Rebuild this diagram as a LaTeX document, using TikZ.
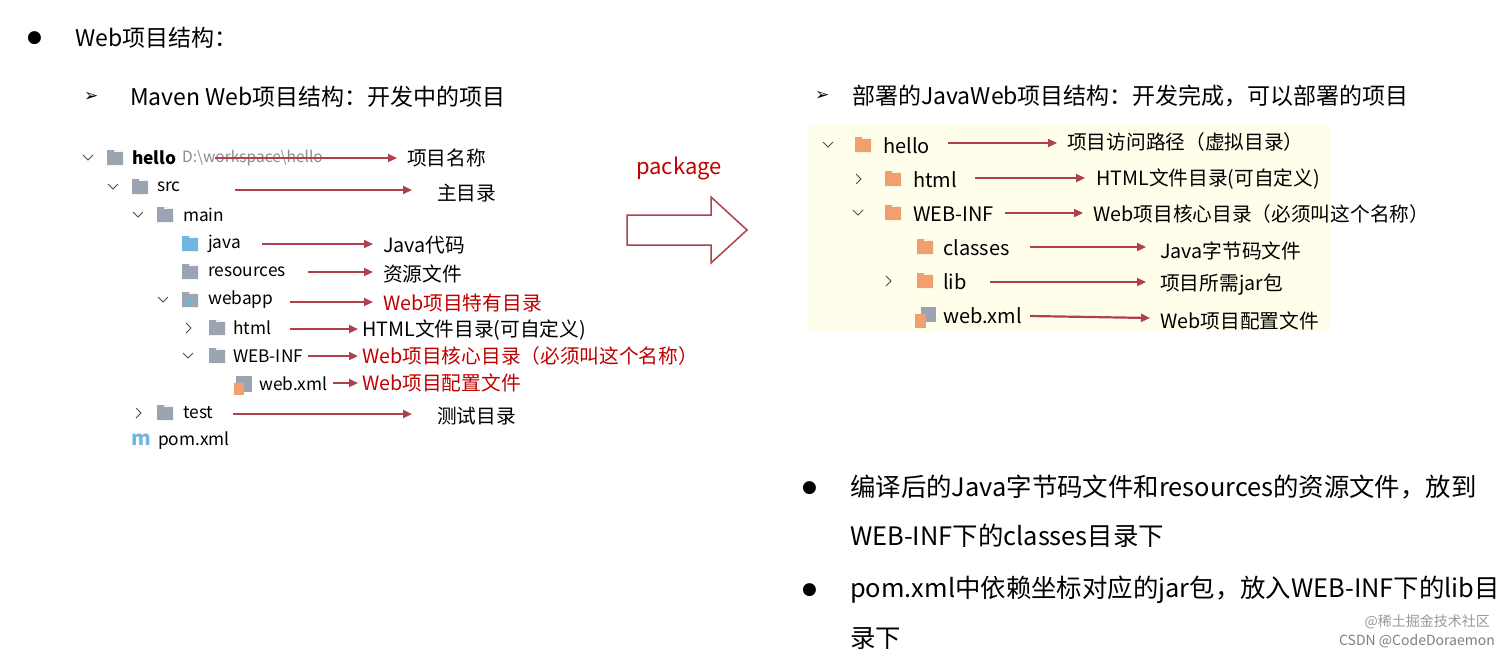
\documentclass[tikz,border=0pt]{standalone}
\usepackage{fontspec}
\setmainfont{Noto Sans CJK SC}
\newfontfamily\sym{DejaVu Sans}
\usetikzlibrary{arrows.meta}
\definecolor{arr}{HTML}{B0404E}
\definecolor{lbl}{HTML}{C00000}
\definecolor{fold}{HTML}{9AA5B1}
\definecolor{ofold}{HTML}{F0A070}
\definecolor{bfold}{HTML}{6FB6E0}
\tikzset{
 x=1pt,y=-1pt,
 t/.style={anchor=west,inner sep=0pt,font=\fontsize{17.3}{17}\selectfont},
 rt/.style={anchor=west,inner sep=0pt,font=\fontsize{20}{20}\selectfont},
 lb/.style={anchor=west,inner sep=0pt,font=\fontsize{19.7}{19}\selectfont},
 big/.style={anchor=west,inner sep=0pt,font=\fontsize{23}{23}\selectfont},
 bot/.style={anchor=west,inner sep=0pt,font=\fontsize{25.4}{26}\selectfont},
 ar/.style={draw=arr,line width=2.2pt,-{Triangle[length=9pt,width=8pt]}},
 fd/.style={fill=fold,draw=none},
 chev/.style={draw=black!70,line width=0.8pt},
}
\newcommand\folder[3]{\fill[#3] (#1-8,#2-6) rectangle (#1-1,#2-8) -- (#1+8,#2-6) rectangle (#1-8,#2+7);}
\newcommand\chevd[2]{\draw[chev] (#1-5,#2-3) -- (#1,#2+2) -- (#1+5,#2-3);}
\newcommand\chevr[2]{\draw[chev] (#1-2,#2-5) -- (#1+3,#2) -- (#1-2,#2+5);}
\begin{document}
\begin{tikzpicture}
\useasboundingbox (0,0) rectangle (1512,656);
\fill[white] (0,0) rectangle (1512,656);
% headings
\node[big] (b1) at (27,38) {\sym\fontsize{17}{17}\selectfont ●};
\node[big] (h1) at (75,38) {Web项目结构：};
\node[big] (b2) at (84,97) {\sym\fontsize{17}{17}\selectfont ➢};
\node[big] (h2) at (130,97) {Maven Web项目结构：开发中的项目};
\node[big] (b3) at (815,96) {\sym\fontsize{17}{17}\selectfont ➢};
\node[big] (h3) at (852,96) {部署的JavaWeb项目结构：开发完成，可以部署的项目};
% left tree
\chevd{88}{158}\folder{115}{158}{fd}
\node[t,font=\fontsize{17.3}{17}\selectfont\bfseries] (lhello) at (132,158) {hello};
\node[t,text=black!45,font=\fontsize{15.5}{15}\selectfont] (lpath) at (182,158) {D:\textbackslash workspace\textbackslash hello};
\chevd{113}{187}\folder{140}{187}{fd}\node[t] (lsrc) at (157,187) {src};
\chevd{138}{215}\folder{165}{215}{fd}\node[t] (lmain) at (183,215) {main};
\folder{190}{244}{fill=bfold}\node[t] (ljava) at (208,244) {java};
\folder{190}{272}{fd}\node[t] (lres) at (208,272) {resources};
\chevd{163}{300}\folder{190}{300}{fd}\fill[bfold] (190,302) circle (3);\node[t] (lweb) at (208,300) {webapp};
\chevr{188}{328}\folder{217}{328}{fd}\node[t] (lhtml) at (233,328) {html};
\chevd{188}{356}\folder{217}{356}{fd}\node[t] (lwi) at (233,356) {WEB-INF};
\fill[fold] (236,376) rectangle (252,392);\fill[ofold] (234,383) rectangle (244,395);
\node[t] (lxml) at (259,384) {web.xml};
\chevr{138}{413}\folder{165}{413}{fd}\node[t] (ltest) at (183,413) {test};
\node[t,text=bfold,font=\fontsize{20}{20}\selectfont\bfseries\itshape] (lm) at (131,440) {m};
\node[t] (lpom) at (158,441) {pom.xml};
% left labels
\node[lb] (l1) at (407,158) {项目名称};
\node[lb] (l2) at (437,193) {主目录};
\node[lb] (l3) at (383,245) {Java代码};
\node[lb] (l4) at (383,274) {资源文件};
\node[lb,text=lbl] (l5) at (383,303) {Web项目特有目录};
\node[lb] (l6) at (362,330) {HTML文件目录(可自定义)};
\node[lb,text=lbl] (l7) at (362,356) {Web项目核心目录（必须叫这个名称）};
\node[lb,text=lbl] (l8) at (362,383) {Web项目配置文件};
\node[lb] (l9) at (437,416) {测试目录};
\coordinate (s1) at (215,158);\draw[ar] (s1) -- (397,158);
\coordinate (s2) at (235,190);\draw[ar] (s2) -- (412,190);
\coordinate (s3) at (262,244);\draw[ar] (s3) -- (373,244);
\coordinate (s4) at (308,272);\draw[ar] (s4) -- (373,272);
\coordinate (s5) at (290,302);\draw[ar] (s5) -- (373,302);
\coordinate (s6) at (290,329);\draw[ar] (s6) -- (358,329);
\coordinate (s7) at (308,356);\draw[ar] (s7) -- (358,356);
\coordinate (s8) at (333,383);\draw[ar] (s8) -- (358,383);
\coordinate (s9) at (233,414);\draw[ar] (s9) -- (412,414);
% package arrow
\node[anchor=center,inner sep=0pt,text=lbl,font=\fontsize{22}{22}\selectfont] (pk) at (679,168) {package};
\draw[draw=arr,line width=1.5pt,fill=white] (627,215) -- (711,215) -- (711,197) -- (747,230) -- (711,263) -- (711,245) -- (627,245) -- cycle;
% right panel
\fill[yellow!8] (808,125) rectangle (1330,332);
\chevd{828}{145}\folder{863}{145}{fill=ofold}\node[rt] (rhello) at (883,146) {hello};
\chevr{858}{179}\folder{893}{179}{fill=ofold}\node[rt] (rhtml) at (913,180) {html};
\chevd{858}{213}\folder{893}{213}{fill=ofold}\node[rt] (rwi) at (913,214) {WEB-INF};
\folder{925}{247}{fill=ofold}\node[rt] (rcl) at (943,248) {classes};
\chevr{888}{281}\folder{925}{281}{fill=ofold}\node[rt] (rlib) at (943,282) {lib};
\fill[fold] (921,307) rectangle (936,322);\fill[ofold] (915,314) rectangle (926,328);
\node[rt] (rxml) at (943,316) {web.xml};
\node[lb] (r1) at (1067,142) {项目访问路径（虚拟目录）};
\node[lb] (r2) at (1096,179) {HTML文件目录(可自定义)};
\node[lb] (r3) at (1093,214) {Web项目核心目录（必须叫这个名称）};
\node[lb] (r4) at (1160,251) {Java字节码文件};
\node[lb] (r5) at (1160,285) {项目所需jar包};
\node[lb] (r6) at (1160,321) {Web项目配置文件};
\coordinate (q1) at (948,143);\draw[ar] (q1) -- (1057,143);
\coordinate (q2) at (975,178);\draw[ar] (q2) -- (1085,178);
\coordinate (q3) at (1005,213);\draw[ar] (q3) -- (1083,213);
\coordinate (q4) at (1030,247);\draw[ar] (q4) -- (1146,247);
\coordinate (q5) at (990,282);\draw[ar] (q5) -- (1146,282);
\coordinate (q6) at (1030,316);\draw[ar] (q6) -- (1150,318);
% bottom bullets
\node[big] (b4) at (802,488) {\sym\fontsize{17}{17}\selectfont ●};
\node[bot] (p1) at (850,487) {编译后的Java字节码文件和resources的资源文件，放到};
\node[bot] (p2) at (850,536) {WEB-INF下的classes目录下};
\node[big] (b5) at (802,590) {\sym\fontsize{17}{17}\selectfont ●};
\node[bot] (p3) at (850,590) {pom.xml中依赖坐标对应的jar包，放入WEB-INF下的lib目};
\node[bot] (p4) at (850,639) {录下};
\node[anchor=east,inner sep=0pt,text=black!40,font=\fontsize{14}{14}\selectfont] (wm1) at (1490,622) {@稀土掘金技术社区};
\node[anchor=east,inner sep=0pt,text=black!50,font=\fontsize{14}{14}\selectfont] (wm2) at (1495,641) {CSDN @CodeDoraemon};
\end{tikzpicture}
\end{document}
